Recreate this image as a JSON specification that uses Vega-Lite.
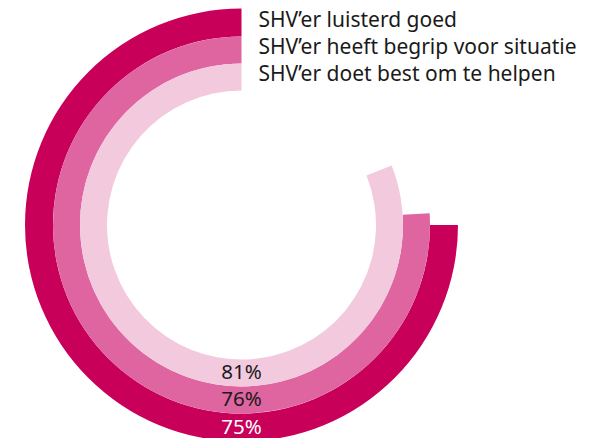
{
  "$schema": "https://vega.github.io/schema/vega-lite/v6.json",
  "width": 483,
  "height": 426,
  "autosize": "none",
  "padding": {"left": 0, "top": 12, "right": 114, "bottom": 0},
  "background": "white",
  "config": {"view": {"stroke": null}, "font": "Noto Sans"},
  "data": {"values": [
    {"series": "SHV’er luisterd goed", "value": 0.75},
    {"series": "SHV’er heeft begrip voor situatie", "value": 0.76},
    {"series": "SHV’er doet best om te helpen", "value": 0.81}
  ]},
  "encoding": {
    "color": {"field": "series", "type": "nominal", "legend": null,
      "scale": {"domain": ["SHV’er luisterd goed", "SHV’er heeft begrip voor situatie", "SHV’er doet best om te helpen"],
                "range": ["#C8005A", "#DF65A0", "#F3C9DD"]}}
  },
  "layer": [
    {
      "transform": [{"filter": "datum.series === 'SHV’er luisterd goed'"}],
      "layer": [
        {"mark": {"type": "arc", "radius": 216.5, "radius2": 188.5},
         "encoding": {
           "theta": {"field": "value", "type": "quantitative", "stack": null, "scale": {"domain": [0, 1], "range": [0, -6.283185307]}},
           "theta2": {"datum": 0}
         }},
        {"mark": {"type": "text", "radius": 202.5, "theta": 0, "align": "left", "baseline": "middle", "dx": 17, "dy": -2, "fontSize": 21},
         "encoding": {"text": {"field": "series"}, "color": {"value": "#1a1a1a"}}},
        {"mark": {"type": "text", "radius": 202.5, "theta": 3.14159265, "align": "center", "baseline": "middle", "fontSize": 20.5},
         "encoding": {"text": {"field": "value", "type": "quantitative", "format": ".0%"}, "color": {"value": "#ffffff"}}}
      ]
    },
    {
      "transform": [{"filter": "datum.series === 'SHV’er heeft begrip voor situatie'"}],
      "layer": [
        {"mark": {"type": "arc", "radius": 188.5, "radius2": 161.5},
         "encoding": {
           "theta": {"field": "value", "type": "quantitative", "stack": null, "scale": {"domain": [0, 1], "range": [0, -6.283185307]}},
           "theta2": {"datum": 0}
         }},
        {"mark": {"type": "text", "radius": 175, "theta": 0, "align": "left", "baseline": "middle", "dx": 17, "dy": -2, "fontSize": 21},
         "encoding": {"text": {"field": "series"}, "color": {"value": "#1a1a1a"}}},
        {"mark": {"type": "text", "radius": 175, "theta": 3.14159265, "align": "center", "baseline": "middle", "fontSize": 20.5},
         "encoding": {"text": {"field": "value", "type": "quantitative", "format": ".0%"}, "color": {"value": "#1a1a1a"}}}
      ]
    },
    {
      "transform": [{"filter": "datum.series === 'SHV’er doet best om te helpen'"}],
      "layer": [
        {"mark": {"type": "arc", "radius": 161.5, "radius2": 134.5},
         "encoding": {
           "theta": {"field": "value", "type": "quantitative", "stack": null, "scale": {"domain": [0, 1], "range": [0, -6.283185307]}},
           "theta2": {"datum": 0}
         }},
        {"mark": {"type": "text", "radius": 148, "theta": 0, "align": "left", "baseline": "middle", "dx": 17, "dy": -2, "fontSize": 21},
         "encoding": {"text": {"field": "series"}, "color": {"value": "#1a1a1a"}}},
        {"mark": {"type": "text", "radius": 148, "theta": 3.14159265, "align": "center", "baseline": "middle", "fontSize": 20.5},
         "encoding": {"text": {"field": "value", "type": "quantitative", "format": ".0%"}, "color": {"value": "#1a1a1a"}}}
      ]
    }
  ]
}
